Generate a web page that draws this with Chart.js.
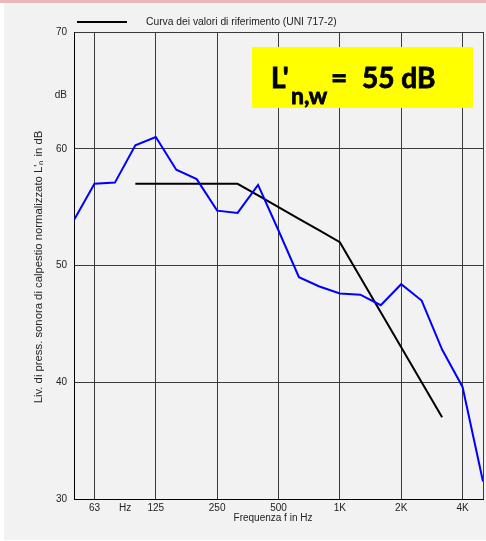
<!DOCTYPE html>
<html>
<head>
<meta charset="utf-8">
<script src="https://cdn.jsdelivr.net/npm/chart.js"></script>
<style>
  html, body { margin: 0; padding: 0; background: #ffffff; }
  #wrap { position: relative; width: 486px; height: 541px; }
</style>
</head>
<body>
<div id="wrap"><canvas id="chart" width="486" height="541"></canvas></div>
<script>
// third-octave bands, 50 Hz .. 5 kHz
const bands = ['50', '63', '80', '100', '125', '160', '200', '250', '315', '400', '500',
  '630', '800', '1000', '1250', '1600', '2000', '2500', '3150', '4000', '5000'];

// measured curve (blue)
const measured = [53.9, 57.0, 57.1, 60.3, 61.0, 58.2, 57.4, 54.7, 54.5, 56.9, 53.0,
  49.0, 48.2, 47.6, 47.5, 46.6, 48.4, 47.0, 42.8, 39.6, 31.5];

// shifted reference curve UNI 717-2 (100 Hz .. 3150 Hz)
const reference = [null, null, null, 57, 57, 57, 57, 57, 57, 56, 55,
  54, 53, 52, 49, 46, 43, 40, 37, null, null];

// x axis labels and where they sit (band index)
const xTickPos = [1, 2.5, 4, 7, 10, 13, 16, 19, 20];
const xTickLabels = ['63', 'Hz', '125', '250', '500', '1K', '2K', '4K', ''];

// y axis labels
const yTickPos = [30, 40, 50, 60, 64.6, 70];
const yTickLabels = ['30', '40', '50', '60', 'dB', '70'];

const legendText = 'Curva dei valori di riferimento (UNI 717-2)';
const yTitle = "Liv. di press. sonora di calpestio normalizzato L'\u2099 in dB";
const xTitle = 'Frequenza f in Hz';

const toPoints = (arr) => arr.map((v, i) => ({ x: i, y: v }));

// draws text filled + thin stroke so it looks heavier
function boldText(ctx, txt, x, y) {
  ctx.fillText(txt, x, y);
  ctx.strokeText(txt, x, y);
}

const decorPlugin = {
  id: 'decor',
  beforeDraw(chart) {
    const ctx = chart.ctx;
    ctx.save();
    ctx.fillStyle = '#ffffff';
    ctx.fillRect(0, 0, chart.width, chart.height);
    ctx.fillStyle = '#f2f2f2';
    ctx.fillRect(4, 3, chart.width - 4, chart.height - 4);
    ctx.fillStyle = '#e8b9bb';
    ctx.fillRect(0, 0, chart.width, 3);
    ctx.restore();
  },
  afterDraw(chart) {
    const ctx = chart.ctx;
    ctx.save();

    // legend
    ctx.strokeStyle = '#000000';
    ctx.lineWidth = 2;
    ctx.beginPath();
    ctx.moveTo(77, 22);
    ctx.lineTo(127, 22);
    ctx.stroke();
    ctx.fillStyle = '#222222';
    ctx.font = '10.3px "Liberation Sans", Arial, sans-serif';
    ctx.textBaseline = 'middle';
    ctx.textAlign = 'left';
    ctx.fillText(legendText, 146, 22);

    // axis titles
    ctx.font = '10px "Liberation Sans", Arial, sans-serif';
    ctx.textAlign = 'center';
    ctx.fillText(xTitle, 273, 518);
    ctx.font = '11.3px "Liberation Sans", Arial, sans-serif';
    ctx.textBaseline = 'alphabetic';
    ctx.translate(41.5, 267);
    ctx.rotate(-Math.PI / 2);
    ctx.fillText(yTitle, 0, 0);
    ctx.restore();

    // yellow result box
    ctx.save();
    ctx.fillStyle = '#ffff00';
    ctx.fillRect(252, 47, 221, 61);
    ctx.fillStyle = '#000000';
    ctx.strokeStyle = '#000000';
    ctx.lineWidth = 0.8;
    ctx.textBaseline = 'alphabetic';
    ctx.textAlign = 'left';
    ctx.font = 'bold 28px Lato, "Open Sans", sans-serif';
    boldText(ctx, "L'", 271, 88);
    ctx.font = 'bold 23px Lato, "Open Sans", sans-serif';
    boldText(ctx, 'n,w', 291, 104);
    ctx.font = 'bold 28px Lato, "Open Sans", sans-serif';
    boldText(ctx, '=', 331, 88);
    boldText(ctx, '55 dB', 362, 88);
    ctx.restore();
  }
};

new Chart(document.getElementById('chart'), {
  type: 'line',
  data: {
    datasets: [
      {
        label: 'Misura',
        data: toPoints(measured),
        borderColor: '#0000ff',
        borderWidth: 2,
        pointRadius: 0,
        tension: 0,
        fill: false
      },
      {
        label: legendText,
        data: toPoints(reference),
        borderColor: '#000000',
        borderWidth: 2,
        pointRadius: 0,
        tension: 0,
        fill: false,
        spanGaps: false
      }
    ]
  },
  options: {
    responsive: false,
    animation: false,
    layout: { padding: { top: 32, right: 1, left: 0, bottom: 0 } },
    plugins: {
      legend: { display: false },
      tooltip: { enabled: false }
    },
    scales: {
      x: {
        type: 'linear',
        min: 0,
        max: 20,
        afterFit(scale) { scale.height = 42; },
        afterBuildTicks(scale) {
          scale.ticks = xTickPos.map(v => ({ value: v }));
        },
        ticks: {
          autoSkip: false,
          maxRotation: 0,
          padding: 3,
          color: '#222222',
          font: { family: '"Liberation Sans", Arial, sans-serif', size: 10 },
          callback: (value, index) => xTickLabels[index]
        },
        grid: {
          drawTicks: false,
          color: (c) => (c.tick && c.tick.value === 2.5) ? 'rgba(0,0,0,0)' : '#3a3a3a',
          lineWidth: 1
        },
        border: { color: '#000000', width: 1 }
      },
      y: {
        min: 30,
        max: 70,
        afterFit(scale) { scale.width = 74; },
        afterBuildTicks(scale) {
          scale.ticks = yTickPos.map(v => ({ value: v }));
        },
        ticks: {
          autoSkip: false,
          padding: 7,
          color: '#222222',
          font: { family: '"Liberation Sans", Arial, sans-serif', size: 10 },
          callback: (value, index) => yTickLabels[index]
        },
        grid: {
          drawTicks: false,
          color: (c) => (c.tick && c.tick.value === 64.6) ? 'rgba(0,0,0,0)' : '#3a3a3a',
          lineWidth: 1
        },
        border: { color: '#000000', width: 1 }
      }
    }
  },
  plugins: [decorPlugin]
});
</script>
</body>
</html>
